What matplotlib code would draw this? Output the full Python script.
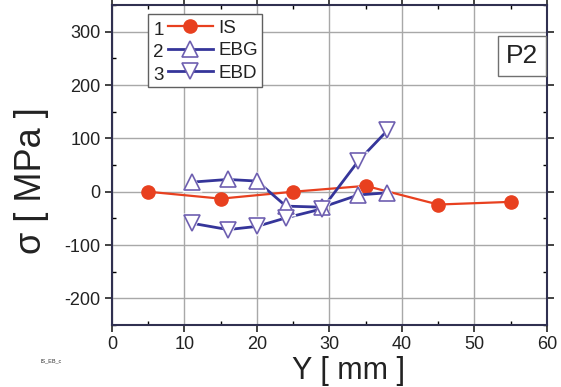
import numpy as np
import matplotlib
matplotlib.use("Agg")
import matplotlib.pyplot as plt
from matplotlib.ticker import MultipleLocator
from matplotlib.patches import Rectangle

plt.rcParams["font.family"] = ["Liberation Sans", "DejaVu Sans"]
plt.rcParams["axes.unicode_minus"] = False

# measured positions (mm) and stresses (MPa)
is_y = [5, 15, 25, 35, 45, 55]
is_s = [0, -13, 0, 11, -24, -19]

ebg_y = [11, 16, 20, 24, 29, 34, 38]
ebg_s = [18, 23, 20, -27, -29, -6, -2]

ebd_y = [11, 16, 20, 24, 29, 34, 38]
ebd_s = [-59, -71, -65, -49, -32, 58, 115]

labels = ["IS", "EBG", "EBD"]
numbers = ["1", "2", "3"]

red = "#e8401f"
navy = "#35359a"
purple = "#6e5fb0"
txt = "#222222"

fig = plt.figure(figsize=(5.61, 3.87), dpi=100)
ax = fig.add_axes([0.1996, 0.160, 0.7754, 0.827])

ax.grid(True, color="#a8a8a8", linewidth=1.0)
ax.set_axisbelow(True)

ax.plot(is_y, is_s, color=red, lw=1.6, marker="o", ms=9.5,
        mfc=red, mec=red, zorder=3)

# white halo behind hollow markers (gap between line and marker)
for xs, ys, m in [(ebg_y, ebg_s, "^"), (ebd_y, ebd_s, "v")]:
    ax.plot(xs, ys, color=navy, lw=2.0, zorder=4)
    ax.plot(xs, ys, ls="none", marker=m, ms=14, mfc="white", mec="none", zorder=5)
    ax.plot(xs, ys, ls="none", marker=m, ms=11, mfc="white", mec=purple,
            mew=1.2, zorder=6)

# legend proxies
h1, = ax.plot([], [], color=red, lw=1.6, marker="o", ms=9.5, mfc=red, mec=red)
h2, = ax.plot([], [], color=navy, lw=2.0, marker="^", ms=11, mfc="white", mec=purple, mew=1.2)
h3, = ax.plot([], [], color=navy, lw=2.0, marker="v", ms=11, mfc="white", mec=purple, mew=1.2)
leg = ax.legend([h1, h2, h3], labels, loc="upper left",
                bbox_to_anchor=(0.128, 0.955), fontsize=13.5, frameon=False,
                borderpad=0, labelspacing=0.3, handlelength=2.4,
                handletextpad=0.3, borderaxespad=0)
leg.set_zorder(10)
for t in leg.get_texts():
    t.set_color(txt)

ax.set_xlim(0, 60)
ax.set_ylim(-250, 350)
ax.xaxis.set_major_locator(MultipleLocator(10))
ax.xaxis.set_minor_locator(MultipleLocator(5))
ax.yaxis.set_major_locator(MultipleLocator(100))
ax.yaxis.set_minor_locator(MultipleLocator(50))

ax.tick_params(which="major", direction="out", length=5, width=1.2,
               labelsize=13, colors=txt, pad=3)
ax.tick_params(which="minor", direction="in", length=3, width=1.0)
ax.tick_params(which="both", top=True, right=True)
for sp in ax.spines.values():
    sp.set_linewidth(1.5)
    sp.set_color("#303050")

ax.set_xlabel("Y [ mm ]", fontsize=22, color=txt)
ax.xaxis.set_label_coords(0.543, -0.145, transform=ax.transAxes)
ax.xaxis.label.set_va("center")
ax.set_ylabel("σ [ MPa ]", fontsize=26, color=txt)
ax.yaxis.set_label_coords(-0.185, 0.45, transform=ax.transAxes)
ax.yaxis.label.set_va("center")

ax.text(0.943, 0.84, "P2", transform=ax.transAxes, fontsize=19,
        ha="center", va="center", color=txt, zorder=10,
        bbox=dict(boxstyle="square,pad=0.3", fc="white", ec="#707070", lw=1.0))

fig.text(0.072, 0.065, "IS_EB_c", fontsize=4, color="#333333")

# series numbers in front of legend handles, and a frame around it all
fig.canvas.draw()
inv = ax.transAxes.inverted()
lb = leg.get_window_extent()
for t, n in zip(leg.get_texts(), numbers):
    tb = t.get_window_extent()
    x0, yc = inv.transform((lb.x0 - 4, (tb.y0 + tb.y1) / 2))
    ax.text(x0, yc, n, transform=ax.transAxes, fontsize=13.5, ha="right",
            va="center_baseline", color=txt, zorder=11)
(fx0, fy0), (fx1, fy1) = inv.transform([(lb.x0 - 20, lb.y0 - 5), (lb.x1 + 4, lb.y1 + 5)])
ax.add_patch(Rectangle((fx0, fy0), fx1 - fx0, fy1 - fy0, transform=ax.transAxes,
                       fc="white", ec="#606060", lw=1.0, zorder=8))

fig.savefig("out.png", dpi=100)
